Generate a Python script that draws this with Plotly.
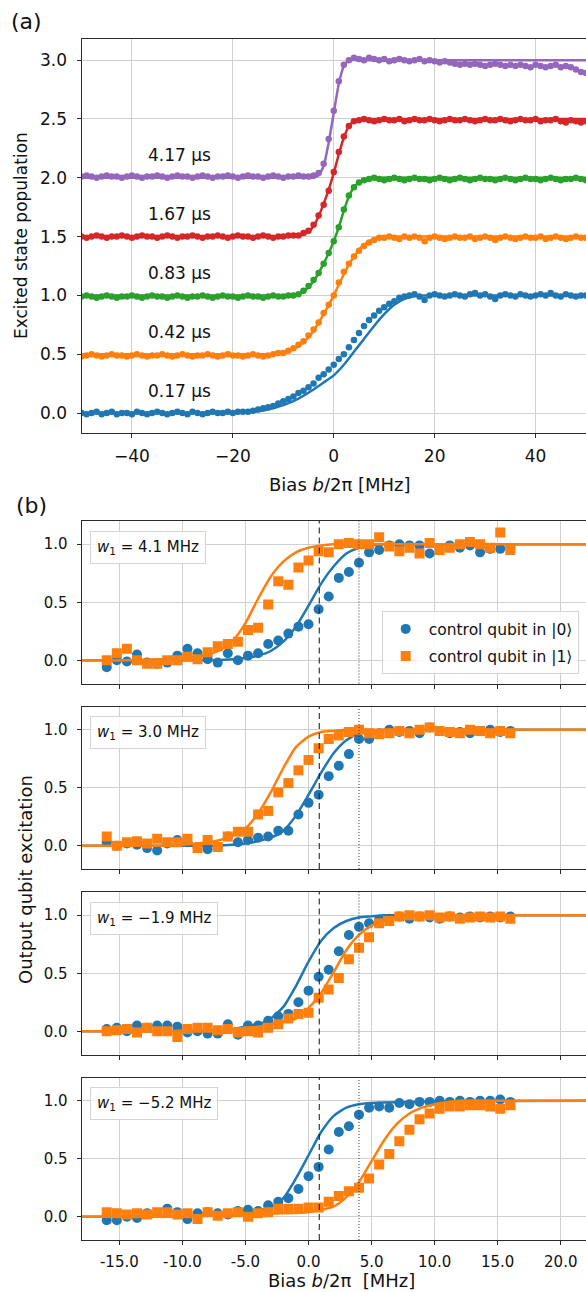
import plotly.graph_objects as go

W, H = 586, 1292
FONT = "DejaVu Sans"
TXT = "#111111"
BLUE, ORANGE, GREEN, RED, PURPLE = "#1f77b4", "#ff7f0e", "#2ca02c", "#d62728", "#9467bd"

# ---------------- Panel (a) data ----------------
bias_a = list(range(-50, 51))

pop_017 = [0.00, -0.01, 0.00, 0.01, -0.01, 0.00, 0.01, -0.01, 0.00, 0.00, -0.01, 0.01, 0.00, -0.01, 0.00, 0.01,
           0.00, -0.01, 0.00, 0.01, 0.00, -0.01, 0.01, 0.00, -0.01, 0.00, 0.01, 0.00, 0.00, 0.01, 0.00, 0.01,
           0.01, 0.01, 0.02, 0.03, 0.04, 0.05, 0.06, 0.08, 0.10, 0.12, 0.14, 0.17, 0.19, 0.22, 0.25, 0.30, 0.33,
           0.37, 0.41, 0.46, 0.50, 0.56, 0.62, 0.68, 0.74, 0.79, 0.83, 0.87, 0.90, 0.93, 0.95, 0.98, 0.99, 1.00,
           1.01, 0.99, 0.96, 1.00, 1.01, 1.00, 0.99, 1.00, 1.01, 1.00, 0.99, 1.01, 1.02, 1.00, 1.01, 0.99, 0.97,
           1.00, 1.01, 1.00, 0.99, 1.01, 1.00, 0.99, 1.00, 1.01, 1.00, 1.02, 1.00, 0.99, 1.01, 1.00, 0.99, 1.00, 1.00]

pop_042 = [0.48, 0.49, 0.50, 0.49, 0.48, 0.49, 0.50, 0.49, 0.49, 0.48, 0.49, 0.50, 0.49, 0.48, 0.49, 0.49,
           0.50, 0.49, 0.48, 0.49, 0.50, 0.49, 0.48, 0.49, 0.49, 0.50, 0.49, 0.48, 0.49, 0.50, 0.49, 0.49,
           0.48, 0.49, 0.50, 0.49, 0.48, 0.49, 0.50, 0.51,
           0.51, 0.53, 0.55, 0.58, 0.61, 0.66, 0.71, 0.77, 0.85, 0.92, 1.00, 1.11, 1.20, 1.27, 1.33, 1.38, 1.42,
           1.45, 1.47, 1.49, 1.49, 1.50, 1.49, 1.48, 1.50, 1.49, 1.50, 1.49, 1.46, 1.49, 1.50, 1.49, 1.48, 1.49,
           1.50, 1.49, 1.49, 1.50, 1.48, 1.49, 1.50, 1.49, 1.47, 1.49, 1.50, 1.49, 1.48, 1.49, 1.50, 1.49, 1.49,
           1.50, 1.48, 1.49, 1.50, 1.49, 1.48, 1.49, 1.50, 1.49, 1.49]

pop_083 = [0.99, 1.00, 0.99, 0.98, 0.99, 1.00, 0.99, 0.98, 0.99, 0.99, 1.00, 0.99, 0.98, 0.99, 1.00, 0.99,
           0.99, 0.98, 0.99, 1.00, 0.99, 0.98, 0.99, 0.99, 1.00, 0.99, 0.98, 0.99, 1.00, 0.99, 0.99, 0.98,
           0.99, 1.00, 0.99, 0.99, 0.98, 0.99, 1.00, 0.99, 0.99, 1.00, 1.00,
           1.01, 1.04, 1.08, 1.13, 1.19, 1.27, 1.36, 1.46, 1.58, 1.73, 1.85, 1.92, 1.96, 1.98, 1.99, 2.00, 1.99,
           1.98, 1.99, 2.00, 1.99, 1.98, 1.99, 2.00, 1.99, 1.99, 1.98, 1.99, 2.00, 1.99, 1.98, 1.99, 2.00, 1.99,
           1.98, 1.99, 2.00, 1.99, 1.99, 1.98, 1.99, 2.00, 1.99, 1.98, 1.99, 2.00, 1.99, 1.99, 1.98, 1.99, 2.00,
           1.99, 1.98, 1.99, 1.99, 2.00, 1.99, 1.98]

pop_167 = [1.50, 1.49, 1.50, 1.51, 1.50, 1.49, 1.50, 1.50, 1.51, 1.50, 1.49, 1.50, 1.51, 1.50, 1.50, 1.49,
           1.50, 1.51, 1.50, 1.49, 1.50, 1.50, 1.51, 1.50, 1.49, 1.50, 1.50, 1.51, 1.50, 1.49, 1.50, 1.51,
           1.50, 1.50, 1.49, 1.50, 1.51, 1.50, 1.49, 1.50, 1.50, 1.51, 1.51,
           1.51, 1.53, 1.55, 1.60, 1.68, 1.77, 1.89, 2.05, 2.22, 2.35, 2.44, 2.48, 2.49, 2.50, 2.49, 2.48, 2.49,
           2.50, 2.49, 2.49, 2.50, 2.48, 2.49, 2.50, 2.49, 2.49, 2.50, 2.49, 2.48, 2.49, 2.50, 2.49, 2.49, 2.50,
           2.49, 2.48, 2.49, 2.50, 2.49, 2.49, 2.50, 2.49, 2.48, 2.49, 2.50, 2.49, 2.49, 2.50, 2.48, 2.49, 2.49,
           2.50, 2.48, 2.47, 2.49, 2.48, 2.47, 2.48]

pop_417 = [2.01, 2.02, 2.01, 2.00, 2.01, 2.02, 2.01, 2.01, 2.00, 2.01, 2.02, 2.01, 2.00, 2.01, 2.01, 2.02,
           2.01, 2.00, 2.01, 2.02, 2.01, 2.01, 2.00, 2.01, 2.02, 2.01, 2.00, 2.01, 2.01, 2.02, 2.01, 2.00,
           2.01, 2.02, 2.01, 2.01, 2.00, 2.01, 2.02, 2.01, 2.00, 2.01, 2.01, 2.02, 2.01, 2.01,
           2.02, 2.04, 2.12, 2.33, 2.57, 2.82, 2.96, 3.00, 3.02, 3.01, 3.00, 3.02, 3.01, 3.00, 3.01, 2.99, 3.00,
           3.01, 3.00, 2.99, 3.00, 3.01, 2.99, 3.00, 2.99, 2.98, 2.99, 2.98, 2.97, 2.96, 2.97, 2.96, 2.97, 2.96,
           2.95, 2.96, 2.97, 2.96, 2.95, 2.96, 2.95, 2.96, 2.95, 2.94, 2.96, 2.95, 2.94, 2.95, 2.96, 2.94, 2.95,
           2.94, 2.92, 2.90, 2.89]

fit_017_x = [-50, -30, -20, -16, -12, -8, -4, -2, 0, 2, 4, 6, 8, 10, 12, 14, 16, 18, 30, 50]
fit_017_y = [0.0, 0.0, 0.0, 0.01, 0.04, 0.10, 0.20, 0.26, 0.32, 0.41, 0.52, 0.63, 0.74, 0.84, 0.92, 0.97, 0.995, 1.0, 1.0, 1.0]
fit_042_x = [-50, -30, -14, -12, -10, -8, -6, -4, -2, 0, 2, 4, 6, 8, 10, 12, 20, 50]
fit_042_y = [0.5, 0.5, 0.5, 0.5, 0.51, 0.54, 0.60, 0.70, 0.84, 1.00, 1.18, 1.33, 1.43, 1.48, 1.50, 1.50, 1.50, 1.50]
fit_083_x = [-50, -30, -10, -8, -6, -4, -2, -1, 0, 1, 2, 3, 4, 5, 6, 8, 20, 50]
fit_083_y = [1.0, 1.0, 1.0, 1.0, 1.03, 1.12, 1.27, 1.36, 1.46, 1.58, 1.72, 1.84, 1.92, 1.96, 1.98, 2.0, 2.0, 2.0]
fit_167_x = [-50, -30, -9, -7, -5, -4, -3, -2, -1, 0, 1, 2, 3, 4, 5, 7, 20, 50]
fit_167_y = [1.5, 1.5, 1.5, 1.5, 1.54, 1.59, 1.67, 1.78, 1.90, 2.04, 2.20, 2.34, 2.44, 2.48, 2.50, 2.50, 2.50, 2.50]
fit_417_x = [-50, -30, -6, -4, -3, -2, -1, 0, 1, 2, 3, 5, 20, 50]
fit_417_y = [2.0, 2.0, 2.0, 2.0, 2.02, 2.10, 2.30, 2.55, 2.80, 2.95, 3.0, 3.0, 3.0, 3.0]

labels_a = ["0.17 μs", "0.42 μs", "0.83 μs", "1.67 μs", "4.17 μs"]
label_x_a = -30.5
label_y_a = [0.19, 0.69, 1.19, 1.69, 2.19]

# ---------------- Panel (b) data ----------------
bias_b = [-16.0, -15.2, -14.4, -13.6, -12.8, -12.0, -11.2, -10.4, -9.6, -8.8, -8.0, -7.2, -6.4, -5.6,
          -4.8, -4.0, -3.2, -2.4, -1.6, -0.8, 0.0, 0.8, 1.6, 2.4, 3.2, 4.0, 4.8, 5.6, 6.4, 7.2, 8.0,
          8.8, 9.6, 10.4, 11.2, 12.0, 12.8, 13.6, 14.4, 15.2, 16.0]

c0_w41 = [-0.06, 0.00, -0.01, 0.05, -0.02, -0.03, -0.02, 0.04, 0.10, 0.06, 0.01, -0.02, 0.06, 0.00, 0.04,
          0.06, 0.14, 0.17, 0.23, 0.29, 0.31, 0.44, 0.55, 0.71, 0.76, 0.84, 0.93, 0.95, 0.99, 1.00, 0.99,
          0.99, 0.92, 0.96, 0.99, 0.97, 0.99, 0.93, 0.96, 0.96, 0.97]
c1_w41 = [0.00, 0.06, 0.10, 0.00, -0.03, -0.03, 0.00, 0.00, 0.03, 0.01, 0.07, 0.12, 0.14, 0.16, 0.26,
          0.28, 0.48, 0.68, 0.65, 0.80, 0.86, 0.94, 0.93, 1.00, 1.01, 1.00, 1.00, 1.06, 0.98, 0.94, 0.97,
          0.92, 1.01, 0.95, 0.97, 1.00, 1.02, 1.00, 0.97, 1.10, 0.95]
c0_w30 = [0.03, 0.00, 0.02, 0.01, -0.02, -0.04, 0.02, 0.05, 0.03, -0.01, -0.03, -0.01, 0.08, 0.03, 0.05,
          0.07, 0.08, 0.13, 0.13, 0.27, 0.37, 0.44, 0.60, 0.69, 0.79, 0.92, 0.92, 0.97, 1.00, 0.98, 0.99,
          0.97, 1.02, 0.99, 0.97, 0.98, 0.97, 0.99, 1.00, 0.98, 0.99]
c1_w30 = [0.08, 0.00, 0.03, 0.04, 0.02, 0.06, 0.03, 0.03, 0.06, -0.02, 0.05, -0.01, 0.08, 0.12, 0.12,
          0.27, 0.30, 0.46, 0.54, 0.65, 0.74, 0.84, 0.92, 0.95, 0.98, 1.00, 0.97, 0.96, 0.97, 0.99, 0.97,
          1.00, 1.02, 0.99, 0.98, 0.97, 1.00, 0.99, 0.97, 0.99, 0.97]
c0_wm19 = [0.02, 0.03, 0.00, 0.05, 0.03, 0.05, 0.05, 0.04, -0.01, 0.00, -0.02, -0.02, 0.06, -0.03, 0.05,
           0.05, 0.09, 0.13, 0.15, 0.25, 0.35, 0.47, 0.53, 0.69, 0.83, 0.90, 0.93, 0.96, 0.97, 0.99, 0.97,
           0.99, 0.98, 0.97, 0.99, 0.98, 0.99, 0.98, 0.99, 0.98, 0.99]
c1_wm19 = [0.00, 0.01, 0.02, -0.01, 0.03, 0.00, 0.00, -0.05, 0.02, 0.03, 0.03, 0.01, 0.02, -0.01, 0.00,
           -0.01, 0.03, 0.06, 0.11, 0.15, 0.16, 0.29, 0.36, 0.46, 0.62, 0.72, 0.81, 0.93, 0.95, 0.99, 1.00,
           0.99, 1.00, 0.98, 0.99, 0.97, 0.98, 0.99, 0.98, 0.99, 0.97]
c0_wm52 = [-0.03, -0.03, 0.00, -0.01, 0.03, 0.03, 0.07, 0.04, -0.02, 0.03, 0.04, 0.03, 0.02, 0.05, 0.06,
           0.05, 0.10, 0.13, 0.16, 0.24, 0.35, 0.43, 0.58, 0.73, 0.78, 0.88, 0.94, 0.95, 0.94, 0.98, 0.97,
           0.99, 0.99, 1.00, 0.99, 1.00, 0.99, 1.00, 1.00, 1.01, 0.99]
c1_wm52 = [0.04, 0.03, 0.02, 0.03, 0.02, 0.04, 0.04, 0.02, 0.03, -0.02, 0.04, 0.01, 0.03, 0.04, 0.00,
           0.03, 0.04, 0.07, 0.07, 0.07, 0.08, 0.08, 0.13, 0.18, 0.22, 0.25, 0.33, 0.45, 0.54, 0.65, 0.75,
           0.84, 0.89, 0.93, 0.95, 0.95, 0.96, 0.96, 0.95, 0.93, 0.96]

fit0_w41_x = [-18, -12, -8, -6, -5, -4, -3, -2, -1, 0, 1, 2, 3, 4, 5, 6, 8, 14, 22]
fit0_w41_y = [0.0, 0.0, 0.0, 0.01, 0.02, 0.04, 0.08, 0.16, 0.29, 0.47, 0.66, 0.81, 0.92, 0.97, 0.99, 1.0, 1.0, 1.0, 1.0]
fit1_w41_x = [-18, -14, -12, -10, -9, -8, -7, -6, -5, -4, -3, -2, -1, 0, 1, 2, 4, 10, 22]
fit1_w41_y = [0.0, 0.0, 0.01, 0.02, 0.03, 0.05, 0.09, 0.17, 0.32, 0.53, 0.72, 0.85, 0.93, 0.97, 0.99, 1.0, 1.0, 1.0, 1.0]
fit0_w30_x = [-18, -12, -8, -6, -5, -4, -3, -2, -1, 0, 1, 2, 3, 4, 5, 6, 8, 14, 22]
fit0_w30_y = [0.0, 0.0, 0.0, 0.01, 0.02, 0.04, 0.07, 0.13, 0.26, 0.44, 0.63, 0.80, 0.91, 0.97, 0.99, 1.0, 1.0, 1.0, 1.0]
fit1_w30_x = [-18, -14, -12, -10, -8, -7, -6, -5, -4, -3, -2, -1, 0, 1, 2, 3, 5, 10, 22]
fit1_w30_y = [0.0, 0.0, 0.0, 0.01, 0.03, 0.05, 0.09, 0.15, 0.28, 0.46, 0.67, 0.85, 0.94, 0.98, 0.99, 1.0, 1.0, 1.0, 1.0]
fit0_wm19_x = [-18, -12, -8, -6, -5, -4, -3, -2, -1, 0, 1, 2, 3, 4, 5, 6, 8, 14, 22]
fit0_wm19_y = [0.0, 0.0, 0.01, 0.02, 0.04, 0.06, 0.11, 0.21, 0.39, 0.60, 0.78, 0.89, 0.95, 0.98, 0.99, 1.0, 1.0, 1.0, 1.0]
fit1_wm19_x = [-18, -12, -8, -6, -4, -3, -2, -1, 0, 1, 2, 3, 4, 5, 6, 7, 8, 9, 12, 22]
fit1_wm19_y = [0.0, 0.0, 0.01, 0.02, 0.04, 0.06, 0.08, 0.11, 0.20, 0.33, 0.51, 0.70, 0.83, 0.91, 0.95, 0.98, 0.99, 1.0, 1.0, 1.0]
fit0_wm52_x = [-18, -12, -8, -6, -5, -4, -3, -2, -1, 0, 1, 2, 3, 4, 5, 6, 8, 12, 22]
fit0_wm52_y = [0.0, 0.0, 0.01, 0.02, 0.03, 0.05, 0.08, 0.16, 0.33, 0.53, 0.73, 0.87, 0.94, 0.97, 0.98, 0.985, 0.99, 0.995, 1.0]
fit1_wm52_x = [-18, -12, -8, -5, -2, 0, 1, 2, 3, 4, 5, 6, 7, 8, 9, 10, 11, 12, 16, 22]
fit1_wm52_y = [0.0, 0.0, 0.01, 0.02, 0.03, 0.04, 0.06, 0.09, 0.17, 0.30, 0.48, 0.66, 0.80, 0.89, 0.94, 0.97, 0.99, 1.0, 1.0, 1.0]

w1_labels = ["<i>w</i><sub>1</sub> = 4.1 MHz", "<i>w</i><sub>1</sub> = 3.0 MHz",
             "<i>w</i><sub>1</sub> = −1.9 MHz", "<i>w</i><sub>1</sub> = −5.2 MHz"]
dashed_x = 0.85
dotted_x = 4.0
xticks_b = [-15, -10, -5, 0, 5, 10, 15, 20]
xticktext_b = ["-15.0", "-10.0", "-5.0", "0.0", "5.0", "10.0", "15.0", "20.0"]
legend_names = ["control qubit in |0⟩", "control qubit in |1⟩"]

# ---------------- Figure ----------------
fig = go.Figure()

def px_x(p):
    return p / W

def px_y(p):
    return 1 - p / H

XDOM = [px_x(81.5), 1.0]

# Panel (a)
series_a = [(pop_017, fit_017_x, fit_017_y, BLUE), (pop_042, fit_042_x, fit_042_y, ORANGE),
            (pop_083, fit_083_x, fit_083_y, GREEN), (pop_167, fit_167_x, fit_167_y, RED),
            (pop_417, fit_417_x, fit_417_y, PURPLE)]
for pops, fx, fy, col in series_a:
    fig.add_trace(go.Scatter(x=bias_a, y=pops, mode="markers", xaxis="x", yaxis="y",
                             marker=dict(color=col, size=6.5, line=dict(width=0)), showlegend=False))
    fig.add_trace(go.Scatter(x=fx, y=fy, mode="lines", xaxis="x", yaxis="y",
                             line=dict(color=col, width=2.5, shape="spline", smoothing=0.5), showlegend=False))

# Panel (b)
sets_b = [(c0_w41, c1_w41, fit0_w41_x, fit0_w41_y, fit1_w41_x, fit1_w41_y),
          (c0_w30, c1_w30, fit0_w30_x, fit0_w30_y, fit1_w30_x, fit1_w30_y),
          (c0_wm19, c1_wm19, fit0_wm19_x, fit0_wm19_y, fit1_wm19_x, fit1_wm19_y),
          (c0_wm52, c1_wm52, fit0_wm52_x, fit0_wm52_y, fit1_wm52_x, fit1_wm52_y)]
for k, (c0, c1, f0x, f0y, f1x, f1y) in enumerate(sets_b):
    xa, ya = "x%d" % (k + 2), "y%d" % (k + 2)
    fig.add_trace(go.Scatter(x=bias_b, y=c0, mode="markers", xaxis=xa, yaxis=ya, name=legend_names[0],
                             marker=dict(color=BLUE, size=10, symbol="circle", line=dict(width=0)),
                             showlegend=(k == 0), legendrank=1, legendgroup="c0"))
    fig.add_trace(go.Scatter(x=f0x, y=f0y, mode="lines", xaxis=xa, yaxis=ya, showlegend=False,
                             line=dict(color=BLUE, width=2.5, shape="spline", smoothing=0.6)))
    fig.add_trace(go.Scatter(x=bias_b, y=c1, mode="markers", xaxis=xa, yaxis=ya, name=legend_names[1],
                             marker=dict(color=ORANGE, size=10, symbol="square", line=dict(width=0)),
                             showlegend=(k == 0), legendrank=2, legendgroup="c1"))
    fig.add_trace(go.Scatter(x=f1x, y=f1y, mode="lines", xaxis=xa, yaxis=ya, showlegend=False,
                             line=dict(color=ORANGE, width=2.5, shape="spline", smoothing=0.6)))

axis_base = dict(showline=True, linecolor="#2a2a2a", linewidth=1, ticks="outside", ticklen=4, tickwidth=1,
                 tickcolor="#2a2a2a", showgrid=True, gridcolor="#cfcfcf", gridwidth=1, zeroline=False)

layout = dict(
    width=W, height=H, margin=dict(l=0, r=0, t=0, b=0), autosize=False,
    paper_bgcolor="white", plot_bgcolor="white",
    font=dict(family=FONT, color=TXT),
    xaxis=dict(axis_base, domain=XDOM, range=[-50, 50], anchor="y", mirror=True,
               tickvals=[-40, -20, 0, 20, 40], tickfont=dict(family=FONT, size=17, color=TXT),
               ticklabelstandoff=4),
    yaxis=dict(axis_base, domain=[px_y(433), px_y(39)], range=[-0.17, 3.18], anchor="x",
               tickvals=[0, 0.5, 1.0, 1.5, 2.0, 2.5, 3.0], tickformat=".1f",
               tickfont=dict(family=FONT, size=17, color=TXT), ticklabelstandoff=6),
    legend=dict(x=px_x(578.7), y=px_y(674.3), xanchor="right", yanchor="bottom",
                bgcolor="rgba(255,255,255,0.85)", bordercolor="#d4d4d4", borderwidth=1,
                font=dict(family=FONT, size=15.5, color=TXT), itemsizing="trace",
                tracegroupgap=4, itemwidth=36),
)

tops_b = [521, 706.5, 892, 1077.5]
for k, top in enumerate(tops_b):
    bottom = top + 162.5
    layout["xaxis%d" % (k + 2)] = dict(axis_base, domain=XDOM, range=[-18, 22], anchor="y%d" % (k + 2),
                                       mirror=True, tickvals=xticks_b, ticktext=xticktext_b,
                                       showticklabels=(k == 3),
                                       tickfont=dict(family=FONT, size=15, color=TXT), ticklabelstandoff=4)
    layout["yaxis%d" % (k + 2)] = dict(axis_base, domain=[px_y(bottom), px_y(top)], range=[-0.2, 1.2],
                                       anchor="x%d" % (k + 2), tickvals=[0, 0.5, 1.0], tickformat=".1f",
                                       tickfont=dict(family=FONT, size=15, color=TXT), ticklabelstandoff=6)
fig.update_layout(**layout)

# vertical reference lines
for k in range(4):
    xa, ya = "x%d" % (k + 2), "y%d domain" % (k + 2)
    fig.add_shape(type="line", xref=xa, yref=ya, x0=dashed_x, x1=dashed_x, y0=0, y1=1,
                  line=dict(color="#111111", width=1, dash="6px,4px"))
    fig.add_shape(type="line", xref=xa, yref=ya, x0=dotted_x, x1=dotted_x, y0=0, y1=1,
                  line=dict(color="#333333", width=1, dash="1px,2px"))

annotations = []
# panel (a) curve labels
for txt, yy in zip(labels_a, label_y_a):
    annotations.append(dict(x=label_x_a, y=yy, xref="x", yref="y", text=txt, showarrow=False,
                            font=dict(family=FONT, size=17, color=TXT), xanchor="center", yanchor="middle"))
# w1 boxes
for k, txt in enumerate(w1_labels):
    annotations.append(dict(x=0.017, y=0.94, xref="x%d domain" % (k + 2), yref="y%d domain" % (k + 2),
                            text=txt, showarrow=False, xanchor="left", yanchor="top",
                            font=dict(family=FONT, size=15, color=TXT), bgcolor="rgba(255,255,255,0.85)",
                            bordercolor="#d4d4d4", borderwidth=1, borderpad=6))
# panel letters
annotations.append(dict(x=px_x(26), y=px_y(22), xref="paper", yref="paper", text="(a)", showarrow=False,
                        font=dict(family=FONT, size=22, color=TXT), xanchor="center", yanchor="middle"))
annotations.append(dict(x=px_x(31), y=px_y(505), xref="paper", yref="paper", text="(b)", showarrow=False,
                        font=dict(family=FONT, size=22, color=TXT), xanchor="center", yanchor="middle"))
# axis titles
annotations.append(dict(x=px_x(340), y=px_y(484), xref="paper", yref="paper",
                        text="Bias <i>b</i>/2π [MHz]", showarrow=False,
                        font=dict(family=FONT, size=18, color=TXT), xanchor="center", yanchor="middle"))
annotations.append(dict(x=px_x(341), y=px_y(1280), xref="paper", yref="paper",
                        text="Bias <i>b</i>/2π  [MHz]", showarrow=False,
                        font=dict(family=FONT, size=18, color=TXT), xanchor="center", yanchor="middle"))
annotations.append(dict(x=px_x(21), y=px_y(236), xref="paper", yref="paper",
                        text="Excited state population", showarrow=False, textangle=-90,
                        font=dict(family=FONT, size=17, color=TXT), xanchor="center", yanchor="middle"))
annotations.append(dict(x=px_x(25), y=px_y(880), xref="paper", yref="paper",
                        text="Output qubit excitation", showarrow=False, textangle=-90,
                        font=dict(family=FONT, size=18, color=TXT), xanchor="center", yanchor="middle"))
fig.update_layout(annotations=annotations)

fig.write_html("out.html", config={"displayModeBar": False},
               post_script="document.body.style.margin='0px';document.body.style.padding='0px';"
                           "document.body.style.overflow='hidden';")
